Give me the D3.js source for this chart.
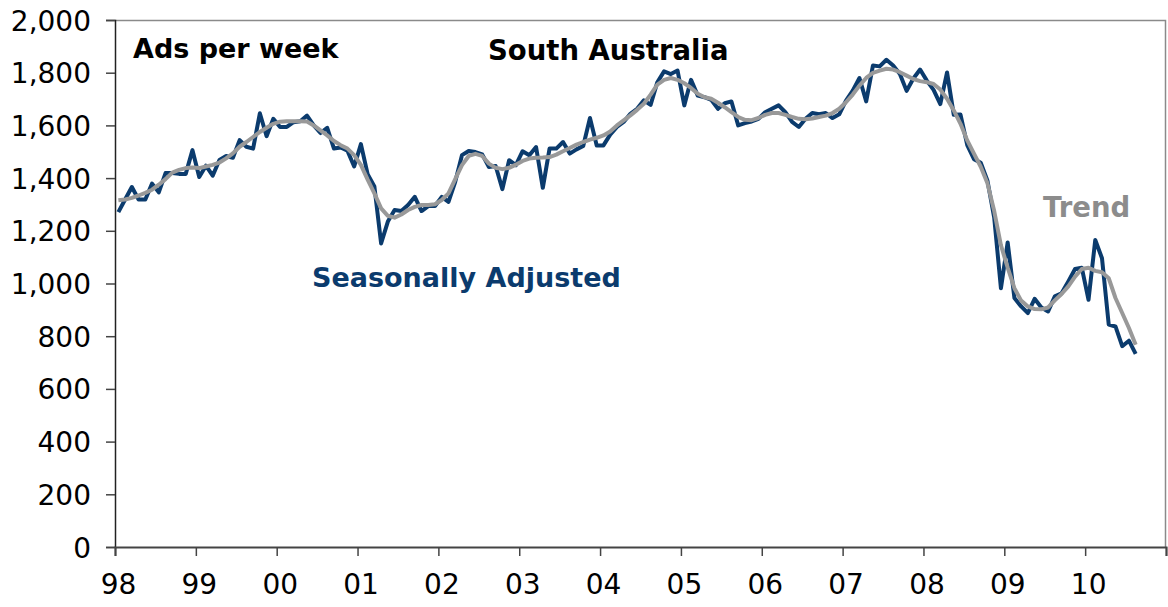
<!DOCTYPE html>
<html>
<head>
<meta charset="utf-8">
<script src="https://cdn.jsdelivr.net/npm/d3@7"></script>
<style>
  body { margin: 0; background: #fff; }
  svg { display: block; }
  .tick text { font-family: "DejaVu Sans", Verdana, sans-serif; font-size: 28px; fill: #000; }
  .note { font-family: "DejaVu Sans", Verdana, sans-serif; font-weight: bold; font-size: 27px; }
</style>
</head>
<body>
<svg id="chart" width="1168" height="607"></svg>
<script>
// Ads per week, South Australia - monthly, Jan 1998 to Aug 2010
const yearLabels = ['98', '99', '00', '01', '02', '03', '04', '05', '06', '07', '08', '09', '10', ''];
const yTicks = [0, 200, 400, 600, 800, 1000, 1200, 1400, 1600, 1800, 2000];

const seasonallyAdjusted = [
    1271, 1319, 1366, 1319, 1319, 1379, 1346, 1419, 1419, 1416, 1416, 1506,
    1404, 1447, 1409, 1469, 1484, 1477, 1544, 1519, 1512, 1646, 1559, 1625,
    1594, 1594, 1612, 1616, 1637, 1600, 1571, 1591, 1512, 1516, 1504, 1444,
    1529, 1415, 1368, 1152, 1235, 1279, 1275, 1298, 1329, 1275, 1294, 1294,
    1329, 1310, 1386, 1487, 1503, 1499, 1490, 1442, 1446, 1358, 1468, 1449,
    1502, 1487, 1518, 1363, 1512, 1512, 1537, 1493, 1509, 1522, 1628, 1524,
    1524, 1565, 1594, 1613, 1644, 1663, 1695, 1678, 1764, 1805, 1795, 1808,
    1676, 1773, 1713, 1707, 1697, 1663, 1684, 1691, 1600, 1609, 1615, 1625,
    1650, 1663, 1676, 1650, 1613, 1594, 1625, 1647, 1642, 1647, 1628, 1642,
    1694, 1732, 1780, 1691, 1827, 1824, 1849, 1827, 1795, 1731, 1778, 1812,
    1770, 1735, 1681, 1801, 1640, 1641, 1525, 1472, 1458, 1390, 1250, 982,
    1156, 945, 913, 888, 942, 909, 894, 951, 963, 1008, 1055, 1060,
    938, 1165, 1096, 844, 837, 762, 783, 733
];

const trend = [
    1316, 1319, 1325, 1334, 1344, 1356, 1375, 1396, 1421, 1431, 1438, 1440,
    1438, 1444, 1450, 1459, 1475, 1494, 1519, 1537, 1556, 1575, 1591, 1606,
    1614, 1616, 1616, 1616, 1615, 1600, 1581, 1562, 1541, 1525, 1512, 1487,
    1450, 1394, 1342, 1285, 1257, 1250, 1262, 1279, 1291, 1298, 1298, 1301,
    1317, 1342, 1396, 1449, 1484, 1492, 1484, 1455, 1439, 1434, 1439, 1451,
    1465, 1474, 1477, 1478, 1480, 1489, 1502, 1514, 1527, 1537, 1546, 1553,
    1562, 1577, 1600, 1619, 1638, 1659, 1682, 1717, 1755, 1773, 1780, 1773,
    1760, 1742, 1720, 1707, 1701, 1686, 1669, 1650, 1632, 1621, 1620, 1628,
    1640, 1647, 1647, 1640, 1632, 1625, 1623, 1626, 1632, 1637, 1647, 1663,
    1688, 1717, 1751, 1780, 1799, 1808, 1815, 1812, 1802, 1789, 1776, 1768,
    1764, 1757, 1736, 1701, 1657, 1606, 1543, 1493, 1443, 1380, 1275, 1145,
    1060, 982, 935, 913, 903, 902, 909, 936, 960, 989, 1026, 1055,
    1060, 1048, 1043, 1020, 945, 888, 831, 768
];

const navy = '#0b3b6d';
const grey = '#999999';

const margin = { top: 20, right: 2, bottom: 60, left: 115 };
const width = 1168 - margin.left - margin.right;
const height = 607 - margin.top - margin.bottom;

const svg = d3.select('#chart');
const g = svg.append('g')
    .attr('transform', `translate(${margin.left},${margin.top})`);

// x in months since Jan 1998, points sit in the middle of each month
const nMonths = (yearLabels.length - 1) * 12;
const x = d3.scaleLinear().domain([0, nMonths]).range([0, width]);
const y = d3.scaleLinear().domain([0, 2000]).range([height, 0]);

// top and right frame
g.append('path')
    .attr('d', `M0,0.5H${width - 0.5}V${height}`)
    .attr('fill', 'none')
    .attr('stroke', '#8a8a8a')
    .attr('stroke-width', 1.5);

// axes
const yAxis = g.append('g')
    .call(d3.axisLeft(y).tickValues(yTicks).tickFormat(d3.format(',')).tickSize(9).tickPadding(15));
yAxis.select('.domain').attr('stroke', '#222').attr('stroke-width', 1.5);
yAxis.selectAll('.tick line').attr('stroke', '#444').attr('stroke-width', 1.5);
yAxis.selectAll('.tick text').attr('dy', '0.36em');

const xAxis = g.append('g')
    .attr('transform', `translate(0,${height})`)
    .call(d3.axisBottom(x).tickValues(d3.range(0, nMonths + 1, 12))
        .tickFormat((d, i) => yearLabels[i]).tickSize(9).tickPadding(18));
xAxis.select('.domain').attr('stroke', '#444').attr('stroke-width', 2);
xAxis.selectAll('.tick line').attr('stroke', '#444').attr('stroke-width', 1.5);
xAxis.selectAll('.tick text').attr('dx', 3);

// lines
const line = d3.line()
    .x((d, i) => x(i + 0.5))
    .y(d => y(d));

g.append('path')
    .datum(seasonallyAdjusted)
    .attr('fill', 'none')
    .attr('stroke', navy)
    .attr('stroke-width', 4)
    .attr('stroke-linejoin', 'round')
    .attr('d', line);

g.append('path')
    .datum(trend)
    .attr('fill', 'none')
    .attr('stroke', grey)
    .attr('stroke-width', 4)
    .attr('stroke-linejoin', 'round')
    .attr('d', line);

// labels
svg.append('text').attr('class', 'note').attr('x', 133).attr('y', 58).attr('fill', '#000').text('Ads per week');
svg.append('text').attr('class', 'note').attr('x', 488).attr('y', 60).attr('fill', '#000').style('font-size', '27.5px').text('South Australia');
svg.append('text').attr('class', 'note').attr('x', 312).attr('y', 287).attr('fill', navy).text('Seasonally Adjusted');
svg.append('text').attr('class', 'note').attr('x', 1043).attr('y', 217).attr('fill', '#8c8c8c').style('font-size', '27.5px').text('Trend');
</script>
</body>
</html>
